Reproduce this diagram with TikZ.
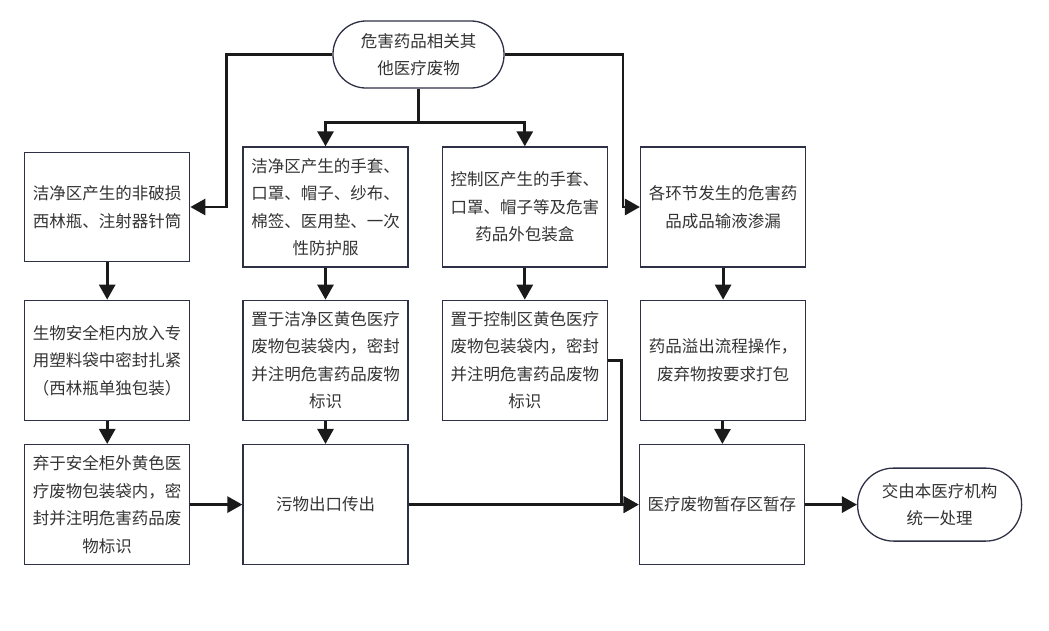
\documentclass[tikz,border=0pt]{standalone}
\usepackage{fontspec}
\setmainfont{Noto Sans CJK SC}
\usepackage{xcolor}
\usepackage{tikz}
\usetikzlibrary{arrows.meta, positioning, calc}
\definecolor{boxline}{HTML}{2E3045}
\definecolor{txt}{HTML}{333333}
\definecolor{conn}{HTML}{1A1A1A}
\tikzstyle{block} = [rectangle, draw=boxline, line width=1.3pt, text=txt, align=center, minimum width=165pt, minimum height=120pt, inner sep=2pt]
\tikzstyle{terminal} = [rectangle, draw=boxline, line width=1.3pt, text=txt, align=center, rounded corners=33pt, minimum width=171pt, minimum height=67pt, inner sep=2pt]
\tikzstyle{arrow} = [line width=2.8pt, draw=conn, -{Triangle[length=15pt,width=16pt]}]
\tikzstyle{line} = [line width=2.8pt, draw=conn]

\begin{document}
\begin{tikzpicture}[x=1pt, y=-1pt, font=\fontsize{16.5pt}{27.5pt}\selectfont]
    \useasboundingbox (0,0) rectangle (1049,630);

    \node (start) [terminal] at (418.5,54.5) {危害药品相关其\\他医疗废物};

    \node (b1) [block] at (325.5,207) {洁净区产生的手套、\\口罩、帽子、纱布、\\棉签、医用垫、一次\\性防护服};
    \node (a1) [block, minimum height=109pt, left=52pt of b1] {洁净区产生的非破损\\西林瓶、注射器针筒};
    \node (c1) [block, right=33pt of b1] {控制区产生的手套、\\口罩、帽子等及危害\\药品外包装盒};
    \node (d1) [block, right=32pt of c1] {各环节发生的危害药\\品成品输液渗漏};

    \node (b2) [block, below=32pt of b1] {置于洁净区黄色医疗\\废物包装袋内，密封\\并注明危害药品废物\\标识};
    \node (a2) [block, left=52pt of b2] {生物安全柜内放入专\\用塑料袋中密封扎紧\\（西林瓶单独包装）};
    \node (c2) [block, right=33pt of b2] {置于控制区黄色医疗\\废物包装袋内，密封\\并注明危害药品废物\\标识};
    \node (d2) [block, right=32pt of c2] {药品溢出流程操作，\\废弃物按要求打包};

    \node (b3) [block, below=23pt of b2] {污物出口传出};
    \node (a3) [block, left=52pt of b3] {弃于安全柜外黄色医\\疗废物包装袋内，密\\封并注明危害药品废\\物标识};
    \node (d3) [block, right=230pt of b3] {医疗废物暂存区暂存};
    \node (end) [terminal, rounded corners=36pt, minimum width=164pt, minimum height=73pt, right=52pt of d3] {交由本医疗机构\\统一处理};

    \draw [arrow] (start.west) -| ([xshift=36pt]a1.east) -- (a1.east);
    \draw [arrow] (start.east) -| ([xshift=-17pt]d1.west) -- (d1.west);
    \draw [line] (start.south) -- ++(0,34) coordinate (split);
    \draw [arrow] (split) -| (b1.north);
    \draw [arrow] (split) -| (c1.north);

    \draw [arrow] (a1) -- (a2);
    \draw [arrow] (a2) -- (a3);
    \draw [arrow] (b1) -- (b2);
    \draw [arrow] (b2) -- (b3);
    \draw [arrow] (c1) -- (c2);
    \draw [arrow] (d1) -- (d2);
    \draw [arrow] (d2) -- (d3);

    \draw [arrow] (a3) -- (b3);
    \draw [arrow] (b3) -- (d3);
    \draw [arrow] (c2.east) -| ([xshift=-17pt]d3.west) -- (d3.west);
    \draw [arrow] (d3) -- (end);
  \end{tikzpicture}
\end{document}
